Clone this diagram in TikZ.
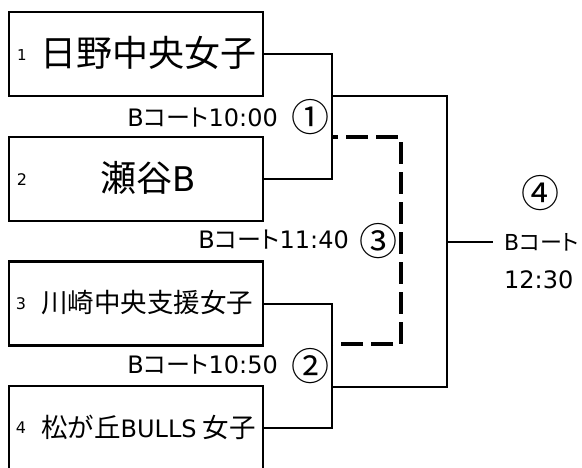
\documentclass[tikz,border=0pt]{standalone}
\usepackage{fontspec}
\setmainfont{Noto Sans CJK JP}
\newfontfamily\lat{DejaVu Sans}
\newfontfamily\jpp[RawFeature=+palt]{Noto Sans CJK JP}
\newcommand\Bct{{\lat\fontsize{24}{26}\selectfont B}{\jpp\fontsize{24}{26}\selectfont コート}}
\newcommand\Bcts{{\lat\fontsize{22}{24}\selectfont B}{\jpp\fontsize{22}{24}\selectfont コート}}
\newcommand\Tm[1]{{\lat\fontsize{24}{26}\selectfont #1}}
\begin{document}
\begin{tikzpicture}[x=1pt,y=-1pt,
  team/.style={draw,line width=2.2pt,minimum width=254pt,minimum height=84pt,inner sep=0pt},
  wire/.style={line width=2pt},
  dwire/.style={line width=4pt,dash pattern=on 22pt off 8pt,dash phase=16pt},
  lbl/.style={inner sep=0pt},
  circ/.style={font=\fontsize{38}{40}\selectfont,inner sep=0pt},
  num/.style={font=\lat\fontsize{15}{17}\selectfont,inner sep=0pt},
  numb/.style={font=\lat\fontsize{16}{18}\selectfont,inner sep=0pt},
  bigname/.style={font=\fontsize{36}{38}\selectfont,inner sep=0pt},
  midname/.style={font=\fontsize{26.5}{28}\selectfont,inner sep=0pt}]
\useasboundingbox (0,0) rectangle (582,467);
\fill[white] (0,0) rectangle (582,467);
% team boxes
\node[team] (b1) at (136,54) {};
\node[team] (b2) at (136,179) {};
\node[team] (b3) at (136,303.5) {};
\node[team] (b4) at (136,428) {};
% numbers and names
\node[num] (n1) at (22,55) {1};
\node[numb] (n2) at (22,180) {2};
\node[numb] (n3) at (21,304) {3};
\node[numb] (n4) at (21,428) {4};
\node[bigname] (t1) at (149,53) {日野中央女子};
\node[bigname] (t2) at (148,178) {瀬谷{\lat\fontsize{34}{36}\selectfont B}};
\node[midname,anchor=west] (t3) at (41,303) {川崎中央支援女子};
\node[midname,anchor=west] (t4) at (41,427) {松が丘{\lat\fontsize{24}{26}\selectfont BULLS} 女子};
% junction coordinates
\coordinate (ja) at (332,0);
\coordinate (jb) at (447,0);
\coordinate (jd) at (401,0);
\coordinate (s1) at (332,95.7);
\coordinate (s2) at (332,387);
\coordinate (d1) at (332,137);
\coordinate (d2) at (332,344);
\coordinate (fin) at (493,242);
% first round
\draw[wire] (b1.east) -- (b1.east -| ja) |- (b2.east);
\draw[wire] (b3.east) -- (b3.east -| ja) |- (b4.east);
% final bracket
\draw[wire] (s1) -- (s1 -| jb) -- (s2 -| jb) -- (s2);
\draw[wire] (fin -| jb) -- (fin);
% dashed third place bracket
\draw[dwire] (d1) -- (d1 -| jd) -- (d2 -| jd) -- (d2);
% labels
\node[lbl,anchor=base east] (l1) at (278,126) {\Bct\Tm{10:00}};
\node[circ] (c1) at (310,117) {①};
\node[lbl,anchor=base east] (l3) at (349,248) {\Bct\Tm{11:40}};
\node[circ] (c3) at (378,241) {③};
\node[lbl,anchor=base east] (l2) at (278,373) {\Bct\Tm{10:50}};
\node[circ] (c2) at (310,366) {②};
\node[circ] (c4) at (540,193) {④};
\node[lbl,anchor=base west] (l5) at (504,250) {\Bcts};
\node[lbl,anchor=base west] (l6) at (504,288) {\Tm{12:30}};
\end{tikzpicture}
\end{document}
